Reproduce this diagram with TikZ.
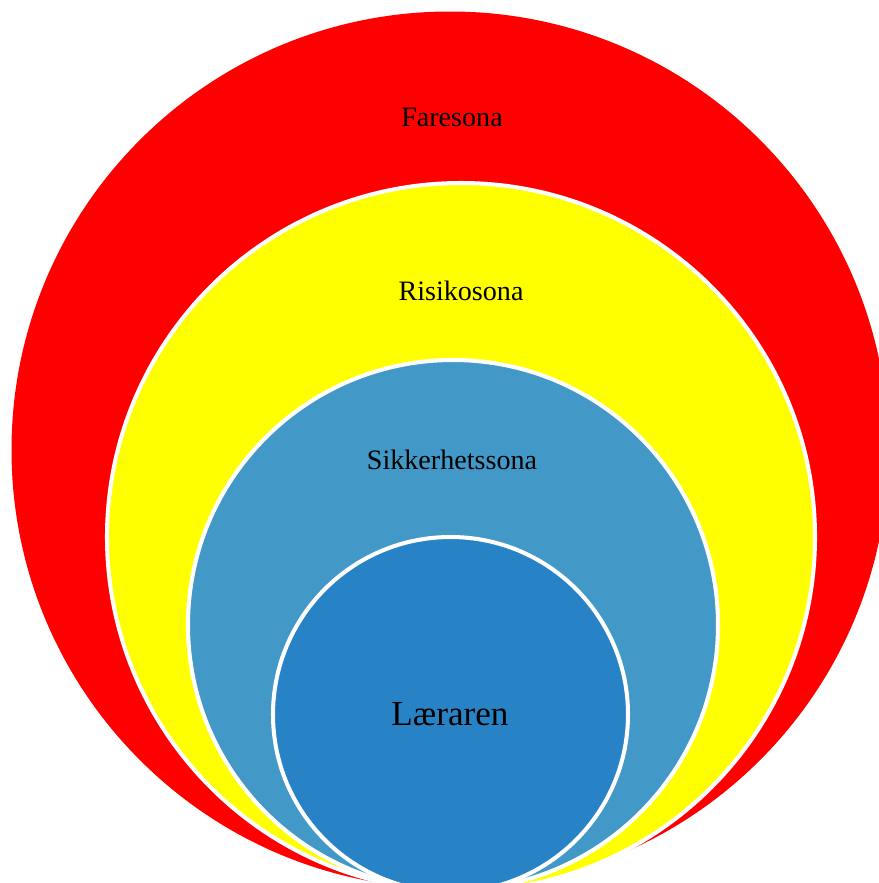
\documentclass[tikz,border=0pt]{standalone}
\usepackage{fontspec}
\setmainfont{Liberation Serif}
\usepackage{xcolor}

\definecolor{farered}{HTML}{FF0000}
\definecolor{risikoyellow}{HTML}{FFFF00}
\definecolor{sikkerblue}{HTML}{4298C6}
\definecolor{laerarblue}{HTML}{2882C6}

\tikzset{
  zone/.style={draw=white, line width=2.3pt},
  zonetext/.style={font=\fontsize{16}{19}\selectfont, text=black},
}

\begin{document}
\begin{tikzpicture}[x=0.02cm, y=-0.02cm]
	 	\useasboundingbox (0,0) rectangle (879,883);
	 	\clip (0,0) rectangle (879,883);
	 	%% zones
	 	\fill[farered] (450,450) circle (438.5);
	 	\draw[zone, fill=risikoyellow] (461,537) circle (354);
	 	\draw[zone, fill=sikkerblue] (453,625) circle (265);
	 	\draw[zone, fill=laerarblue] (450.5,714.5) circle (177.5);
	 	%% zone labels
	 	\node[zonetext] (fare) at (452,117) {Faresona};
	 	\node[zonetext] (risiko) at (461,291) {Risikosona};
	 	\node[zonetext] (sikker) at (452,460) {Sikkerhetssona};
	 	\node[zonetext, font=\fontsize{20}{24}\selectfont] (laerar) at (450,714) {Læraren};
\end{tikzpicture}
\end{document}
